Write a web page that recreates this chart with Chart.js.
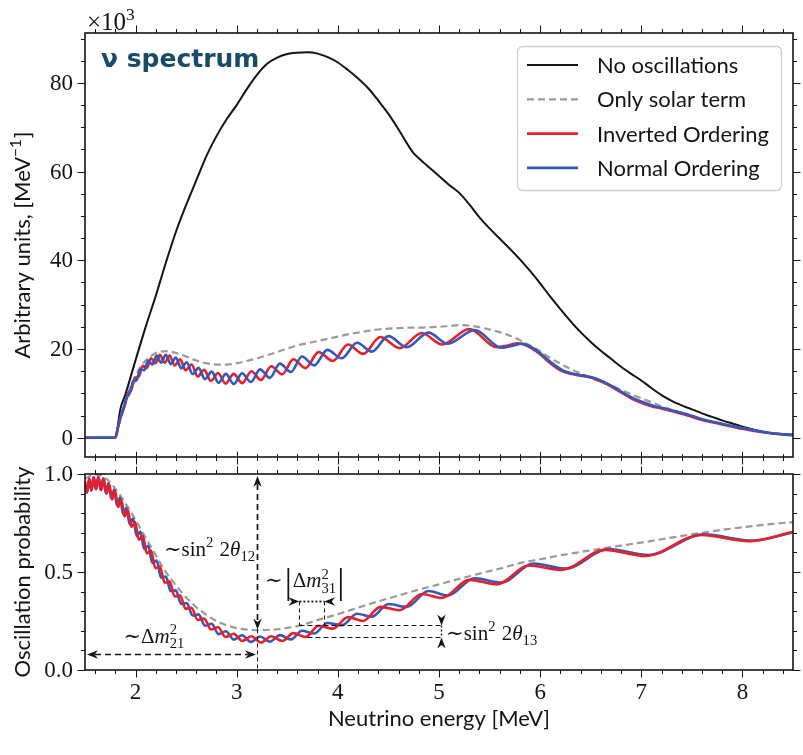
<!DOCTYPE html>
<html>
<head>
<meta charset="utf-8">
<title>Reactor neutrino spectrum</title>
<script src="https://cdn.jsdelivr.net/npm/chart.js@4.4.1/dist/chart.umd.min.js"></script>
<style>
  html, body { margin: 0; padding: 0; background: #fff; }
  #page { position: relative; width: 803px; height: 755px; overflow: hidden; background: #fff; }
  #page canvas { position: absolute; left: 0; }
</style>
</head>
<body>
<div id="page">
  <canvas id="spectrum" width="803" height="470" style="top:0"></canvas>
  <canvas id="probability" width="803" height="295" style="top:460px"></canvas>
</div>
<script>
// ---------------- data ----------------
// upper panel: spectra (x10^3 per MeV)
const energyNoOsc = [1.5, 1.8, 1.85, 1.9, 2.0, 2.1, 2.2, 2.3, 2.4, 2.5, 2.6, 2.7, 2.8, 2.9, 3.0, 3.1, 3.2, 3.3, 3.4, 3.5, 3.6, 3.7, 3.8, 3.9, 4.0, 4.1, 4.2, 4.3, 4.4, 4.5, 4.6, 4.74, 4.8, 4.9, 5.0, 5.1, 5.2, 5.3, 5.4, 5.5, 5.6, 5.7, 5.8, 5.9, 6.0, 6.1, 6.2, 6.3, 6.4, 6.5, 6.6, 6.7, 6.8, 6.9, 7.0, 7.1, 7.2, 7.3, 7.4, 7.5, 7.6, 7.7, 7.8, 7.9, 8.0, 8.1, 8.2, 8.3, 8.4, 8.5];
const spectrumNoOsc = [0, 0, 6.5, 9.8, 17.5, 25, 32, 39.5, 46.5, 52.5, 58, 63.5, 68, 71.8, 75, 78.6, 81.8, 84.3, 85.7, 86.5, 86.8, 86.9, 86.6, 85.8, 84.6, 82.9, 81, 78.8, 76, 73, 69.5, 64.4, 63, 61, 59, 57, 55.2, 52.6, 49.7, 47.2, 44.9, 42.6, 40.2, 37.6, 34.8, 31.8, 29, 26.3, 23.8, 21.6, 19.6, 17.8, 16, 14.4, 12.9, 11.2, 9.6, 8.3, 7.3, 6.4, 5.5, 4.7, 3.9, 3.2, 2.5, 1.9, 1.3, 0.95, 0.8, 0.7];

const energySolar = [1.5, 1.8, 1.85, 1.9, 1.95, 2.0, 2.05, 2.1, 2.15, 2.2, 2.25, 2.3, 2.35, 2.4, 2.5, 2.6, 2.7, 2.8, 2.9, 3.0, 3.1, 3.2, 3.3, 3.4, 3.5, 3.6, 3.7, 3.8, 3.9, 4.0, 4.1, 4.2, 4.3, 4.4, 4.5, 4.6, 4.7, 4.8, 4.9, 5.0, 5.1, 5.2, 5.3, 5.4, 5.5, 5.6, 5.7, 5.8, 5.9, 6.0, 6.1, 6.2, 6.3, 6.4, 6.5, 6.6, 6.7, 6.8, 6.9, 7.0, 7.1, 7.2, 7.3, 7.4, 7.5, 7.6, 7.7, 7.8, 7.9, 8.0, 8.1, 8.2, 8.3, 8.4, 8.5];
const spectrumSolar = [0, 0, 4.6, 8.5, 11.5, 14.0, 16.0, 17.4, 18.4, 19.1, 19.4, 19.5, 19.4, 19.1, 18.3, 17.4, 16.8, 16.5, 16.5, 16.8, 17.3, 17.9, 18.6, 19.3, 20.1, 20.8, 21.3, 21.8, 22.3, 22.8, 23.3, 23.7, 24.1, 24.4, 24.6, 24.7, 24.8, 24.8, 24.9, 25.0, 25.2, 25.4, 25.3, 24.9, 24.4, 23.8, 23.0, 22.0, 20.8, 19.5, 18.0, 16.7, 15.5, 14.5, 13.5, 12.6, 11.7, 10.8, 9.8, 8.9, 8.0, 7.1, 6.3, 5.5, 4.8, 4.2, 3.6, 3.1, 2.6, 2.1, 1.7, 1.3, 1.0, 0.7, 0.5];

const energyIO = [1.5, 1.8, 1.827, 1.859, 1.891, 1.924, 1.959, 1.995, 2.032, 2.071, 2.111, 2.152, 2.196, 2.241, 2.288, 2.336, 2.387, 2.44, 2.495, 2.553, 2.614, 2.678, 2.745, 2.815, 2.89, 2.97, 3.055, 3.145, 3.24, 3.34, 3.45, 3.56, 3.68, 3.81, 3.95, 4.10, 4.25, 4.42, 4.61, 4.83, 5.03, 5.30, 5.57, 5.68, 5.78, 5.9, 6.0, 6.1, 6.2, 6.3, 6.4, 6.5, 6.6, 6.7, 6.8, 6.9, 7.0, 7.1, 7.2, 7.3, 7.4, 7.5, 7.6, 7.7, 7.8, 7.9, 8.0, 8.1, 8.2, 8.3, 8.4, 8.5];
const spectrumIO = [0, 0, 2.3, 5.2, 7.1, 9.85, 10.9, 13.5, 13.8, 16.2, 15.7, 17.9, 16.8, 18.7, 16.9, 18.5, 16.3, 17.7, 15.2, 16.5, 13.8, 15.3, 12.8, 14.6, 12.2, 14.4, 12.3, 15.0, 13.0, 16.1, 14.3, 17.7, 15.7, 19.3, 17.3, 21.0, 18.9, 22.7, 20.2, 23.6, 21.0, 24.5, 20.4, 20.8, 21.3, 20.4, 18.8, 16.8, 15.2, 14.4, 14.0, 13.6, 12.7, 11.6, 10.2, 8.9, 7.9, 7.1, 6.6, 6.0, 5.4, 4.7, 4.0, 3.5, 3.0, 2.5, 2.0, 1.6, 1.25, 0.95, 0.75, 0.6];

const energyNO = [1.5, 1.8, 1.816, 1.846, 1.877, 1.909, 1.942, 1.975, 2.011, 2.047, 2.085, 2.125, 2.166, 2.208, 2.253, 2.299, 2.348, 2.398, 2.451, 2.506, 2.563, 2.623, 2.686, 2.752, 2.821, 2.893, 2.97, 3.053, 3.14, 3.231, 3.327, 3.427, 3.536, 3.645, 3.765, 3.897, 4.038, 4.19, 4.335, 4.50, 4.682, 4.895, 5.088, 5.352, 5.618, 5.72, 5.82, 5.93, 6.03, 6.13, 6.23, 6.33, 6.43, 6.53, 6.63, 6.73, 6.83, 6.93, 7.03, 7.13, 7.23, 7.33, 7.43, 7.53, 7.63, 7.73, 7.83, 7.93, 8.03, 8.13, 8.23, 8.33, 8.43, 8.5];
const spectrumNO = [0, 0, 1.4, 4.15, 6.2, 8.9, 10.0, 12.6, 13.0, 15.5, 15.2, 17.4, 16.5, 18.5, 16.9, 18.7, 16.6, 18.1, 15.65, 17.0, 14.35, 15.75, 13.2, 14.9, 12.4, 14.4, 12.1, 14.55, 12.55, 15.4, 13.5, 16.7, 14.8, 18.3, 16.3, 19.8, 17.9, 21.4, 19.4, 22.9, 20.4, 23.7, 21.2, 24.3, 20.3, 20.7, 21.2, 20.2, 18.5, 16.6, 15.1, 14.4, 14.0, 13.5, 12.6, 11.4, 10.0, 8.8, 7.9, 7.1, 6.6, 6.0, 5.4, 4.7, 4.0, 3.5, 3.0, 2.5, 2.0, 1.6, 1.25, 0.95, 0.7, 0.55];

// lower panel: survival probability
const energySolarProb = [1.5, 1.55, 1.6, 1.65, 1.7, 1.75, 1.8, 1.85, 1.9, 1.95, 2.0, 2.05, 2.1, 2.15, 2.2, 2.25, 2.3, 2.35, 2.4, 2.45, 2.5, 2.55, 2.6, 2.65, 2.7, 2.75, 2.8, 2.85, 2.9, 2.95, 3.0, 3.1, 3.2, 3.3, 3.4, 3.5, 3.6, 3.7, 3.8, 3.9, 4.0, 4.2, 4.4, 4.6, 4.8, 5.0, 5.2, 5.4, 5.6, 5.8, 6.0, 6.2, 6.4, 6.6, 6.8, 7.0, 7.2, 7.4, 7.6, 7.8, 8.0, 8.2, 8.5];
const probSolar = [0.975, 0.99, 0.997, 0.995, 0.98, 0.955, 0.925, 0.89, 0.85, 0.81, 0.765, 0.72, 0.675, 0.63, 0.585, 0.54, 0.50, 0.465, 0.43, 0.40, 0.37, 0.345, 0.32, 0.30, 0.282, 0.265, 0.25, 0.238, 0.228, 0.22, 0.213, 0.206, 0.203, 0.204, 0.208, 0.215, 0.224, 0.238, 0.255, 0.27, 0.285, 0.318, 0.35, 0.38, 0.41, 0.437, 0.465, 0.492, 0.517, 0.545, 0.565, 0.585, 0.602, 0.619, 0.635, 0.65, 0.667, 0.684, 0.70, 0.715, 0.728, 0.74, 0.755];

const energyIOProb = [1.5, 1.522, 1.543, 1.565, 1.588, 1.611, 1.635, 1.66, 1.686, 1.713, 1.74, 1.768, 1.797, 1.827, 1.859, 1.891, 1.924, 1.959, 1.995, 2.032, 2.071, 2.111, 2.152, 2.196, 2.241, 2.288, 2.336, 2.387, 2.44, 2.495, 2.553, 2.614, 2.678, 2.745, 2.815, 2.89, 2.97, 3.055, 3.145, 3.24, 3.34, 3.45, 3.56, 3.68, 3.81, 3.95, 4.10, 4.25, 4.42, 4.61, 4.83, 5.03, 5.30, 5.57, 5.89, 6.21, 6.64, 7.04, 7.59, 8.06, 8.5];
const probIO = [0.962, 0.908, 0.977, 0.917, 0.985, 0.922, 0.985, 0.918, 0.975, 0.90, 0.948, 0.87, 0.914, 0.832, 0.869, 0.783, 0.815, 0.73, 0.755, 0.665, 0.685, 0.595, 0.61, 0.52, 0.528, 0.445, 0.452, 0.375, 0.381, 0.312, 0.317, 0.255, 0.262, 0.207, 0.218, 0.168, 0.185, 0.148, 0.172, 0.14, 0.172, 0.148, 0.188, 0.168, 0.226, 0.211, 0.27, 0.25, 0.322, 0.305, 0.388, 0.368, 0.46, 0.437, 0.533, 0.511, 0.613, 0.582, 0.689, 0.657, 0.705];

const energyNOProb = [1.5, 1.52, 1.541, 1.562, 1.583, 1.606, 1.63, 1.654, 1.679, 1.705, 1.732, 1.76, 1.788, 1.816, 1.846, 1.877, 1.909, 1.942, 1.975, 2.011, 2.047, 2.085, 2.125, 2.166, 2.208, 2.253, 2.299, 2.348, 2.398, 2.451, 2.506, 2.563, 2.623, 2.686, 2.752, 2.821, 2.893, 2.97, 3.053, 3.14, 3.231, 3.327, 3.427, 3.536, 3.645, 3.765, 3.897, 4.038, 4.19, 4.335, 4.50, 4.682, 4.895, 5.088, 5.352, 5.618, 5.935, 6.25, 6.675, 7.07, 7.62, 8.09, 8.5];
const probNO = [0.935, 0.905, 0.977, 0.915, 0.985, 0.922, 0.986, 0.919, 0.978, 0.903, 0.953, 0.875, 0.92, 0.839, 0.88, 0.794, 0.828, 0.743, 0.773, 0.684, 0.706, 0.618, 0.634, 0.546, 0.558, 0.471, 0.477, 0.402, 0.406, 0.337, 0.342, 0.278, 0.284, 0.226, 0.236, 0.183, 0.198, 0.155, 0.177, 0.143, 0.171, 0.144, 0.178, 0.156, 0.2, 0.186, 0.24, 0.228, 0.287, 0.272, 0.337, 0.322, 0.403, 0.38, 0.468, 0.446, 0.543, 0.517, 0.617, 0.587, 0.692, 0.66, 0.702];

// axes
const energyTicks = [2, 3, 4, 5, 6, 7, 8];
const spectrumTicks = [0, 20, 40, 60, 80];
const probabilityTicks = [0, 0.5, 1.0];
const seriesLabels = ['No oscillations', 'Only solar term', 'Inverted Ordering', 'Normal Ordering'];

// ---------------- helpers ----------------
const SERIF = '"Liberation Serif", "DejaVu Serif", serif';
const SANS = 'Lato, "Open Sans", sans-serif';
const RED = '#e8202b';
const BLUE = '#3656b8';
const GREY = '#9a9a9a';
const BLACK = '#141414';

function pts(xs, ys) {
    return xs.map((x, i) => ({ x: x, y: ys[i] }));
}

function steps(from, to, step, skip) {
    const out = [];
    for (let v = from; v <= to + 1e-9; v += step) {
        const r = Math.round(v * 1000) / 1000;
        if (!skip.some(s => Math.abs(s - r) < 1e-6)) out.push(r);
    }
    return out;
}

const energyMinor = steps(1.6, 8.4, 0.2, energyTicks);
const spectrumMinor = steps(-0, 90, 5, spectrumTicks);
const probabilityMinor = steps(0.1, 0.9, 0.1, probabilityTicks);

// text with super/subscripts: parts = [{t}, {t, it}, {sup, sub}]
function richText(ctx, parts, x, y, size, family, measureOnly) {
    let cx = x;
    parts.forEach(p => {
        if (p.sup !== undefined || p.sub !== undefined) {
            const s = size * 0.7;
            ctx.font = s + 'px ' + family;
            let w = 0;
            if (p.sup !== undefined) {
                if (!measureOnly) ctx.fillText(p.sup, cx, y - size * 0.42);
                w = ctx.measureText(p.sup).width;
            }
            if (p.sub !== undefined) {
                if (!measureOnly) ctx.fillText(p.sub, cx, y + size * 0.24);
                w = Math.max(w, ctx.measureText(p.sub).width);
            }
            cx += w + 1;
        } else {
            const s = size * (p.scale || 1);
            ctx.font = (p.it ? 'italic ' : '') + s + 'px ' + family;
            if (!measureOnly) ctx.fillText(p.t, cx, y + (p.dy || 0));
            cx += ctx.measureText(p.t).width + (p.gap || 0);
        }
    });
    return cx - x;
}

function centredRich(ctx, parts, cx, baseline, size, family) {
    const w = richText(ctx, parts, 0, 0, size, family, true);
    richText(ctx, parts, cx - w / 2, baseline, size, family, false);
}

function arrowHead(ctx, tx, ty, dx, dy) {
    const L = 11, W = 4.2, N = 7.5;
    const bx = tx - dx * L, by = ty - dy * L;
    const nx = -dy, ny = dx;
    ctx.beginPath();
    ctx.moveTo(tx, ty);
    ctx.lineTo(bx + nx * W, by + ny * W);
    ctx.lineTo(tx - dx * N, ty - dy * N);
    ctx.lineTo(bx - nx * W, by - ny * W);
    ctx.closePath();
    ctx.fill();
}

function line(ctx, x1, y1, x2, y2, width, dash) {
    ctx.save();
    ctx.lineWidth = width;
    ctx.setLineDash(dash || []);
    ctx.beginPath();
    ctx.moveTo(x1, y1);
    ctx.lineTo(x2, y2);
    ctx.stroke();
    ctx.restore();
}

// frame with outward ticks on every side, plus tick labels
function drawFrame(chart, yMajor, yMinor, yLabels, showX, bottomInOut) {
    const ctx = chart.ctx, a = chart.chartArea;
    const sx = chart.scales.x, sy = chart.scales.y;
    ctx.save();
    ctx.strokeStyle = BLACK;
    ctx.fillStyle = BLACK;
    ctx.lineWidth = 1;
    const xt = (v, len) => {
        const x = Math.round(sx.getPixelForValue(v)) + 0.5;
        line(ctx, x, a.top, x, a.top - len, 1);
        line(ctx, x, a.bottom - (bottomInOut ? len * 0.7 : 0), x, a.bottom + len, 1);
    };
    const yt = (v, len) => {
        const y = Math.round(sy.getPixelForValue(v)) + 0.5;
        line(ctx, a.left, y, a.left - len, y, 1);
        line(ctx, a.right, y, a.right + len, y, 1);
    };
    energyTicks.forEach(v => xt(v, 7.5));
    energyMinor.forEach(v => xt(v, 4));
    yMajor.forEach(v => yt(v, 7.5));
    yMinor.forEach(v => yt(v, 4));
    ctx.lineWidth = 1.6;
    ctx.strokeRect(a.left, a.top, a.right - a.left, a.bottom - a.top);

    ctx.font = '23px ' + SERIF;
    ctx.textAlign = 'right';
    ctx.textBaseline = 'middle';
    yMajor.forEach((v, i) => ctx.fillText(yLabels[i], a.left - 12, sy.getPixelForValue(v) + 1));
    if (showX) {
        ctx.textAlign = 'center';
        energyTicks.forEach(v => ctx.fillText(String(v), sx.getPixelForValue(v), a.bottom + 23));
    }
    ctx.restore();
}

function makeChart(id, datasets, yMin, yMax, padding, plugin) {
    return new Chart(document.getElementById(id), {
        type: 'line',
        data: { datasets: datasets },
        options: {
            responsive: false,
            animation: false,
            devicePixelRatio: 1,
            events: [],
            layout: { padding: padding },
            elements: {
                point: { radius: 0 },
                line: { cubicInterpolationMode: 'monotone', fill: false }
            },
            plugins: { legend: { display: false }, tooltip: { enabled: false } },
            scales: {
                x: { type: 'linear', min: 1.5, max: 8.5, display: false },
                y: { type: 'linear', min: yMin, max: yMax, display: false }
            }
        },
        plugins: [plugin]
    });
}

// ---------------- upper panel ----------------
const spectrumStyles = [
    { color: BLACK, width: 2, dash: [] },
    { color: GREY, width: 2.2, dash: [7, 4] },
    { color: RED, width: 2.6, dash: [] },
    { color: BLUE, width: 2.6, dash: [] }
];

const spectrumDecor = {
    id: 'spectrumDecor',
    afterDatasetsDraw(chart) {
        const ctx = chart.ctx, a = chart.chartArea;
        drawFrame(chart, spectrumTicks, spectrumMinor, spectrumTicks.map(String), false, true);
        ctx.save();
        ctx.fillStyle = BLACK;
        ctx.textAlign = 'left';
        ctx.textBaseline = 'alphabetic';
        richText(ctx, [{ t: '×10' }, { sup: '3' }], a.left + 2, 30, 25, SERIF);

        // panel tag
        ctx.fillStyle = '#174b69';
        ctx.font = 'bold 25px "DejaVu Sans", "Open Sans", sans-serif';
        ctx.fillText('ν spectrum', 101, 67);

        // y title
        ctx.fillStyle = BLACK;
        ctx.save();
        ctx.translate(22, (a.top + a.bottom) / 2);
        ctx.rotate(-Math.PI / 2);
        centredRich(ctx, [{ t: 'Arbitrary units, [MeV' }, { sup: '−1' }, { t: ']' }], 0, 8, 22, SANS);
        ctx.restore();

        // legend
        const bx = 517.5, by = 46.5, bw = 264, bh = 144, r = 5;
        ctx.beginPath();
        ctx.moveTo(bx + r, by);
        ctx.arcTo(bx + bw, by, bx + bw, by + bh, r);
        ctx.arcTo(bx + bw, by + bh, bx, by + bh, r);
        ctx.arcTo(bx, by + bh, bx, by, r);
        ctx.arcTo(bx, by, bx + bw, by, r);
        ctx.closePath();
        ctx.fillStyle = 'rgba(255,255,255,0.85)';
        ctx.fill();
        ctx.strokeStyle = '#d0d0d0';
        ctx.lineWidth = 1.3;
        ctx.stroke();
        seriesLabels.forEach((label, i) => {
            const y = 65 + i * 34.3;
            const st = spectrumStyles[i];
            ctx.strokeStyle = st.color;
            line(ctx, 527, y, 578, y, st.width, st.dash);
            ctx.fillStyle = BLACK;
            ctx.font = '22px ' + SANS;
            ctx.textBaseline = 'middle';
            ctx.fillText(label, 597, y + 1);
        });
        ctx.restore();
    }
};

const spectrumSeries = [
    pts(energyNoOsc, spectrumNoOsc),
    pts(energySolar, spectrumSolar),
    pts(energyIO, spectrumIO),
    pts(energyNO, spectrumNO)
];

makeChart('spectrum', spectrumSeries.map((d, i) => ({
    label: seriesLabels[i],
    data: d,
    borderColor: spectrumStyles[i].color,
    borderWidth: spectrumStyles[i].width,
    borderDash: spectrumStyles[i].dash,
    order: 3 - i
})), -4.35, 91.25, { left: 85, right: 10, top: 33, bottom: 13 }, spectrumDecor);

// ---------------- lower panel ----------------
const probabilityDecor = {
    id: 'probabilityDecor',
    afterDatasetsDraw(chart) {
        const ctx = chart.ctx, a = chart.chartArea;
        const sx = chart.scales.x, sy = chart.scales.y;
        const X = v => sx.getPixelForValue(v), Y = v => sy.getPixelForValue(v);
        drawFrame(chart, probabilityTicks, probabilityMinor, ['0.0', '0.5', '1.0'], true, false);

        ctx.save();
        ctx.strokeStyle = BLACK;
        ctx.fillStyle = BLACK;

        // ~sin^2 2theta12 : vertical arrow from the top down to the solar minimum
        const xs12 = Math.round(X(3.2)) + 0.5;
        line(ctx, xs12, Y(0.99) + 8, xs12, Y(0.207) - 8, 1.7, [6, 4]);
        arrowHead(ctx, xs12, Y(0.99), 0, -1);
        arrowHead(ctx, xs12, Y(0.207), 0, 1);
        line(ctx, xs12, Y(0.207), xs12, Y(0), 1, [4, 3]);

        // ~dm21 : horizontal arrow along the bottom
        const y21 = Math.round(Y(0.082)) + 0.5;
        line(ctx, X(1.52) + 8, y21, X(3.19) - 8, y21, 1.7, [6, 4]);
        arrowHead(ctx, X(1.52), y21, -1, 0);
        arrowHead(ctx, X(3.19), y21, 1, 0);

        // ~|dm31| : dotted span with inward arrowheads
        const y31 = Math.round(Y(0.35)) + 0.5;
        line(ctx, X(3.62), y31, X(3.865), y31, 1.8, [2, 2]);
        arrowHead(ctx, X(3.62), y31, 1, 0);
        arrowHead(ctx, X(3.865), y31, -1, 0);
        line(ctx, Math.round(X(3.62)) + 0.5, y31, Math.round(X(3.62)) + 0.5, Y(0.228), 1, [4, 3]);
        line(ctx, Math.round(X(3.865)) + 0.5, y31, Math.round(X(3.865)) + 0.5, Y(0.228), 1, [4, 3]);

        // ~sin^2 2theta13 : two guide lines and inward marker
        const yUp = Math.round(Y(0.228)) + 0.5, yLo = Math.round(Y(0.166)) + 0.5;
        line(ctx, X(3.62), yUp, X(5.02), yUp, 1, [5, 3]);
        line(ctx, X(3.70), yLo, X(5.02), yLo, 1, [5, 3]);
        const x13 = Math.round(X(5.02)) + 0.5;
        arrowHead(ctx, x13, yUp, 0, 1);
        arrowHead(ctx, x13, yLo, 0, -1);
        line(ctx, x13, yUp, x13, yLo, 1.4, [2, 2]);

        // labels
        ctx.textAlign = 'left';
        ctx.textBaseline = 'alphabetic';
        richText(ctx, [{ t: '∼sin' }, { sup: '2' }, { t: ' 2' }, { t: 'θ', it: true }, { sub: '12' }], X(2.28), Y(0.584), 21, SERIF);
        richText(ctx, [{ t: '∼Δ' }, { t: 'm', it: true }, { sup: '2', sub: '21' }], X(1.88), Y(0.137), 21, SERIF);
        richText(ctx, [{ t: '∼', gap: 2 }, { t: '|', scale: 1.7, dy: 6, gap: 1 }, { t: 'Δ' }, { t: 'm', it: true }, { sup: '2', sub: '31' }, { t: '|', scale: 1.7, dy: 6 }], X(3.28), Y(0.421), 21, SERIF);
        richText(ctx, [{ t: '∼sin' }, { sup: '2' }, { t: ' 2' }, { t: 'θ', it: true }, { sub: '13' }], X(5.07), Y(0.152), 21, SERIF);

        // axis titles
        ctx.save();
        ctx.translate(22, (a.top + a.bottom) / 2);
        ctx.rotate(-Math.PI / 2);
        centredRich(ctx, [{ t: 'Oscillation probability' }], 0, 8, 22, SANS);
        ctx.restore();
        centredRich(ctx, [{ t: 'Neutrino energy [MeV]' }], (a.left + a.right) / 2, 266, 22, SANS);
        ctx.restore();
    }
};

makeChart('probability', [
    { label: seriesLabels[1], data: pts(energySolarProb, probSolar), borderColor: GREY, borderWidth: 2.2, borderDash: [7, 4], order: 2 },
    { label: seriesLabels[3], data: pts(energyNOProb, probNO), borderColor: BLUE, borderWidth: 2.6, order: 1 },
    { label: seriesLabels[2], data: pts(energyIOProb, probIO), borderColor: RED, borderWidth: 2.6, order: 0 }
], 0, 1, { left: 85, right: 10, top: 14, bottom: 85 }, probabilityDecor);
</script>
</body>
</html>
